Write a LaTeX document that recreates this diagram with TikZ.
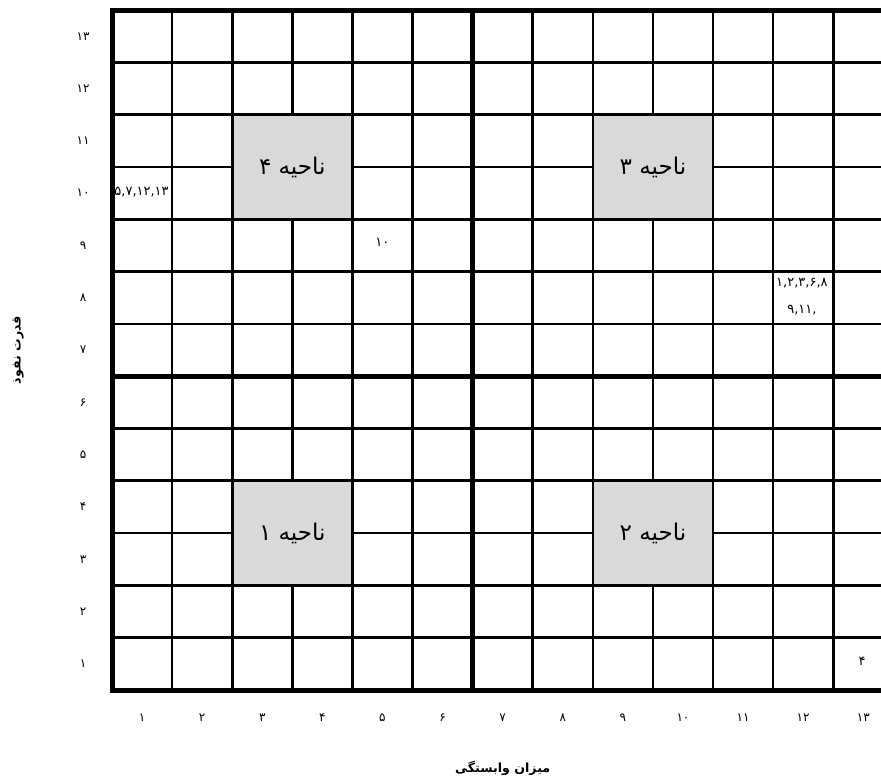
\documentclass[tikz,border=0pt]{standalone}
\usepackage{fontspec}
\newfontfamily\arabicfont[Script=Arabic]{DejaVu Sans}
\TeXXeTstate=1

\begin{document}
\begin{tikzpicture}[x=30.05pt,y=26.15pt,
  thinline/.style={line width=1.3pt},
  thickline/.style={line width=2.5pt},
  zone/.style={fill=black!15,draw=black,line width=1.3pt},
  zonelabel/.style={font=\arabicfont\fontsize{11.5}{13}\selectfont},
  ticklabel/.style={font=\arabicfont\fontsize{6}{7}\selectfont},
  celltext/.style={font=\arabicfont\fontsize{6.5}{7.5}\selectfont,inner sep=1pt},
  axistitle/.style={font=\arabicfont\bfseries\fontsize{6.3}{8}\selectfont}]
\useasboundingbox (-1.8636,-1.6252) rectangle (12.7953,13.1931);
\clip (-1.8636,-1.6252) rectangle (12.7953,13.1931);
\foreach \i in {1,...,12} {
  \draw[thinline] (\i,0)--(\i,13);
  \draw[thinline] (0,\i)--(13,\i);
}
\foreach \x/\y/\t/\n in {2/9/۴/4,8/9/۳/3,2/2/۱/1,8/2/۲/2} {
  \draw[zone] (\x,\y) rectangle ++(2,2);
  \node[zonelabel] (zone\n) at (\x+1,\y+1) {\beginR ناحیه \t\endR};
}
\draw[thickline] (0,0) rectangle (13,13);
\draw[thickline] (6,0)--(6,13);
\draw[thickline] (0,6)--(13,6);
\foreach \n/\t in {1/۱,2/۲,3/۳,4/۴,5/۵,6/۶,7/۷,8/۸,9/۹,10/۱۰,11/۱۱,12/۱۲,13/۱۳} {
  \node[ticklabel] (xl\n) at (\n-0.5,-0.52) {\t};
  \node[ticklabel] (yl\n) at (-0.48,\n-0.5) {\t};
}
\node[celltext,anchor=west] (cellA) at (0.0,9.52) {۵,۷,۱۲,۱۳};
\node[celltext] (cellB) at (4.5,8.55) {۱۰};
\node[celltext] (cellC) at (11.48,7.78) {۱,۲,۳,۶,۸};
\node[celltext] (cellD) at (11.48,7.27) {۹,۱۱\kern0pt,};
\node[celltext] (cellE) at (12.48,0.54) {۴};
\node[axistitle] (xtitle) at (6.5,-1.49) {\beginR میزان وابستگی\endR};
\node[axistitle,rotate=90] (ytitle) at (-1.56,6.5) {\beginR قدرت نفوذ\endR};
\end{tikzpicture}
\end{document}
